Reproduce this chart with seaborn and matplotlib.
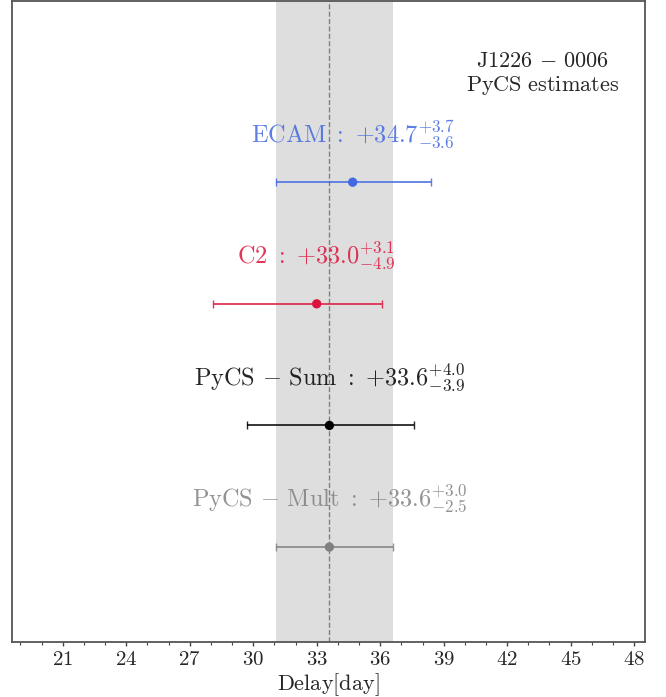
import matplotlib
matplotlib.use("Agg")
import matplotlib.pyplot as plt
import seaborn as sns
import pandas as pd
from matplotlib.ticker import MultipleLocator

# Data: time-delay estimates for J1226-0006
names = ["ECAM", "C2", "PyCS-Sum", "PyCS-Mult"]
labels = [r"\mathrm{ECAM}", r"\mathrm{C2}", r"\mathrm{PyCS\,-\,Sum}", r"\mathrm{PyCS\,-\,Mult}"]
delays = [34.7, 33.0, 33.6, 33.6]
err_up = [3.7, 3.1, 4.0, 3.0]
err_down = [3.6, 4.9, 3.9, 2.5]
colors = ["royalblue", "crimson", "black", "gray"]
ypos = [3, 2, 1, 0]

df = pd.DataFrame({"name": names, "delay": delays, "y": ypos})

sns.set_style("ticks")
plt.rcParams["font.family"] = "serif"
plt.rcParams["font.serif"] = ["cmr10", "DejaVu Serif"]
plt.rcParams["mathtext.fontset"] = "cm"
plt.rcParams["axes.formatter.use_mathtext"] = True

fig = plt.figure(figsize=(6.66, 6.97), dpi=100)
ax = fig.add_axes([0.018, 0.079, 0.950, 0.9196])

# reference interval (PyCS-Mult)
ref = 3
ax.axvspan(delays[ref] - err_down[ref], delays[ref] + err_up[ref], color="#dedede", zorder=0, lw=0)
ax.axvline(delays[ref], color="gray", ls="--", lw=1, zorder=1)

for i in range(len(names)):
    ax.errorbar(delays[i], ypos[i], xerr=[[err_down[i]], [err_up[i]]],
                fmt="none", ecolor=colors[i], elinewidth=1.3, capsize=3, alpha=0.85, zorder=2)
    txt = r"$%s\ :\ {+}%.1f^{+%.1f}_{-%.1f}$" % (labels[i], delays[i], err_up[i], err_down[i])
    ax.text(delays[i], ypos[i] + 0.40, txt, color=colors[i], alpha=0.85,
            ha="center", va="center", fontsize=17.5)

sns.scatterplot(data=df, x="delay", y="y", hue="name", palette=colors,
                s=45, edgecolor="none", legend=False, ax=ax, zorder=3)

ax.text(0.839, 0.886, r"$\mathrm{J1226\,-\,0006}$" + "\n" + r"$\mathrm{PyCS\ estimates}$",
        transform=ax.transAxes, ha="center", va="center", fontsize=16, linespacing=1.2)

ax.set_xlim(18.6, 48.5)
ax.set_ylim(-0.78, 4.49)
ax.xaxis.set_major_locator(MultipleLocator(3))
ax.xaxis.set_minor_locator(MultipleLocator(1))
ax.set_yticks([])
ax.set_ylabel("")
ax.set_xlabel(r"$\mathrm{Delay[day]}$", fontsize=16, labelpad=2)
ax.tick_params(axis="x", which="major", labelsize=15, length=3, width=1, color="#444444")
ax.tick_params(axis="x", which="minor", length=2, width=0.8, color="#444444")
for sp in ax.spines.values():
    sp.set_visible(True)
    sp.set_color("#555555")
    sp.set_linewidth(1.3)

plt.savefig("out.png", dpi=100)
